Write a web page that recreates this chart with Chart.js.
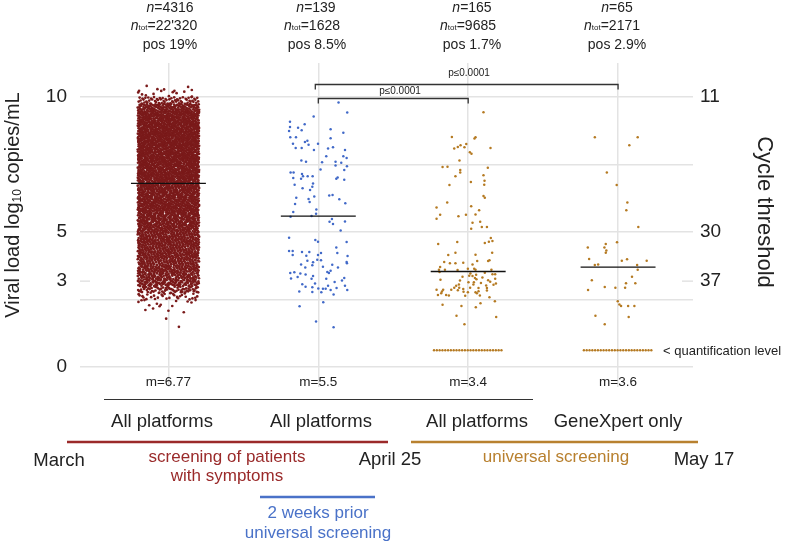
<!DOCTYPE html>
<html>
<head>
<meta charset="utf-8">
<script src="https://cdn.jsdelivr.net/npm/chart.js@4/dist/chart.umd.min.js"></script>
<style>
html,body{margin:0;padding:0;background:#fff;}
canvas{display:block;}
</style>
</head>
<body>
<canvas id="c" width="787" height="544"></canvas>
<script>
// ---------------- DATA ----------------
const groupPositions = [1, 2, 3, 4];
const groupLabels = ['All platforms', 'All platforms', 'All platforms', 'GeneXpert only'];
const nLabels = ['4316', '139', '165', '65'];
const nTotLabels = ["22'320", '1628', '9685', '2171'];
const posLabels = ['pos 19%', 'pos 8.5%', 'pos 1.7%', 'pos 2.9%'];
const medianTexts = ['m=6.77', 'm=5.5', 'm=3.4', 'm=3.6'];
const medianLevels = [6.80, 5.59, 3.54, 3.70];

// Left axis (viral load) and right axis (cycle threshold) labels
const vlTickValues = [0, 3.18, 5, 10];
const vlTickLabels = ['0', '3', '5', '10'];
const vlGridValues = [0, 2.5, 5, 7.5, 10];
const ctTickValues = [3.18, 5, 10];
const ctTickLabels = ['37', '30', '11'];

// Group 1 (n=4316): dense strip, counts per 0.25 log bin starting at 2.0
const g1BinStart = 2.0;
const g1BinWidth = 0.25;
const g1BinCounts = [4, 8, 30, 70, 105, 115, 122, 120, 125, 130, 132, 135, 138, 140, 143, 145, 148,
  152, 158, 162, 164, 166, 168, 170, 172, 175, 175, 175, 172, 160, 120, 60, 10, 2];
const g1OutlierValues = [10.23, 10.41, 10.28, 10.23, 10.26, 2.41, 2.48, 2.25, 1.79, 1.49, 2.48];
const g1OutlierJitter = [-0.196, -0.145, -0.029, 0.040, 0.156, -0.2, -0.16, -0.059, -0.015, 0.07, 0.181];

// Group 2 (2 weeks prior universal screening)
const g2Values = [9.80,9.43,9.28,9.08,8.99,8.89,8.86,8.74,8.77,8.81,8.68,8.51,8.51,8.47,8.38,8.33,8.27,8.27,8.23,8.11,
8.11,8.09,8.14,8.04,8.04,7.81,7.81,7.74,7.65,7.60,7.58,7.60,7.57,7.46,7.44,7.32,7.30,7.20,7.20,7.15,
7.07,7.07,7.07,7.00,6.97,6.97,7.02,6.94,6.80,6.75,6.68,6.62,6.56,6.35,6.37,6.32,6.27,6.22,6.21,6.11,
6.07,6.04,5.83,5.74,5.68,5.57,5.59,5.48,5.38,5.39,5.30,5.06,4.79,4.70,4.64,4.63,4.43,4.30,4.30,4.26,
4.26,4.22,4.22,4.15,4.12,4.15,4.11,3.94,3.97,3.95,3.88,3.89,3.84,3.80,3.77,3.71,3.79,3.69,3.69,3.57,
3.52,3.48,3.48,3.51,3.46,3.43,3.37,3.33,3.28,3.27,3.27,3.30,3.20,3.15,3.09,3.07,3.01,3.01,2.97,2.95,
2.91,2.90,2.90,2.85,2.93,2.85,2.80,2.78,2.77,2.69,2.40,2.25,1.69,1.47];
const g2Jitter = [0.135,0.193,-0.031,-0.189,-0.091,-0.189,-0.135,-0.195,-0.111,0.082,0.167,-0.187,-0.149,0.082,-0.073,-0.089,-0.002,-0.169,-0.065,-0.151,
-0.111,0.065,0.098,-0.029,0.178,0.167,0.053,0.189,-0.113,-0.082,0.025,0.115,0.153,0.115,0.191,0.015,0.173,-0.185,-0.165,-0.109,
-0.102,-0.071,-0.038,-0.167,-0.115,0.12,0.129,0.173,-0.035,-0.158,-0.04,-0.105,-0.055,0.073,0.095,-0.027,-0.147,-0.065,0.14,-0.058,
0.18,-0.155,-0.013,-0.167,-0.015,-0.185,-0.045,0.091,0.075,0.178,0.098,0.149,-0.195,-0.02,-0.002,0.189,0.12,-0.195,-0.171,-0.109,
-0.06,0.018,0.127,-0.171,-0.08,-0.002,0.195,-0.073,-0.007,0.018,-0.035,0.189,0.191,-0.115,-0.04,0.031,0.093,-0.087,0.131,0.082,
0.06,0.071,-0.187,-0.16,-0.12,-0.085,-0.035,-0.138,-0.182,-0.045,0.053,0.173,0.158,0.109,-0.022,-0.107,0.065,0.178,-0.085,-0.04,
0,0.031,0.049,0.082,0.122,0.193,-0.127,-0.04,0.02,0.102,0.033,-0.125,-0.015,0.102];

// Group 3 (universal screening, all platforms)
const g3Values = [9.44,8.52,8.51,8.46,8.26,8.21,8.15,8.09,8.14,8.11,7.95,7.90,7.65,7.41,7.42,7.38,7.30,7.20,7.07,7.10,
6.85,6.90,6.75,6.74,6.33,6.27,6.09,5.95,5.91,5.81,5.64,5.64,5.65,5.58,5.49,5.38,5.34,5.12,5.19,5.19,
4.56,4.63,4.59,4.64,4.67,4.78,4.15,4.23,4.16,4.23,3.89,3.84,3.84,3.86,3.93,3.93,3.95,3.70,3.80,3.60,
3.60,3.59,3.64,3.64,3.60,3.60,3.52,3.46,3.42,3.49,3.44,3.44,3.38,3.37,3.34,3.32,3.30,3.25,3.23,3.20,
3.27,3.21,3.16,3.14,3.14,3.11,3.06,3.06,3.01,3.02,3.05,3.09,2.94,2.94,2.94,2.93,2.93,2.86,2.86,2.86,
2.89,2.80,2.84,2.79,2.77,2.77,2.81,2.83,2.73,2.67,2.67,2.65,2.64,2.73,2.65,2.58,2.44,2.31,2.26,2.36,
2.21,1.90,1.85,1.58];
const g3Jitter = [0.102,-0.109,0.049,0.042,-0.013,-0.051,-0.069,-0.093,-0.025,0.149,0.011,0.022,-0.058,-0.171,-0.138,0.131,-0.053,-0.053,-0.085,0.102,
0.018,0.109,0.107,-0.125,0.102,0.111,-0.14,0.02,-0.211,0.073,-0.187,-0.015,0.049,-0.065,-0.211,0.08,0.029,0.02,0.091,0.125,
-0.2,-0.073,0.111,0.138,0.162,0.151,-0.133,-0.085,0.049,0.16,-0.16,-0.122,-0.085,-0.033,0.06,0.133,0.142,-0.187,0.029,-0.195,
-0.155,-0.071,-0.002,0.04,0.049,0.155,-0.191,0.015,0.053,0.111,0.162,0.18,0.007,0.029,-0.038,0.095,0.045,0.055,-0.185,-0.055,
0.18,0.133,0.147,0.002,0.038,0.085,0.035,-0.062,-0.08,0.12,0.169,0.185,-0.06,-0.093,0.013,0.069,0.125,-0.211,-0.167,-0.113,
-0.033,-0.175,-0.069,-0.031,-0.002,0.049,0.069,0.125,-0.18,-0.202,-0.147,-0.129,-0.02,0.058,0.078,0.142,0.178,-0.171,-0.045,0.082,
0.051,-0.078,0.187,-0.025];

// Group 4 (universal screening, GeneXpert only)
const g4Values = [8.51,8.51,8.21,7.20,6.74,6.09,5.81,5.19,4.62,4.43,4.56,4.43,4.32,4.23,4.00,3.94,3.99,3.94,3.78,3.80,
3.78,3.60,3.34,3.21,3.10,3.10,2.96,2.94,2.94,2.85,2.44,2.32,2.26,2.26,2.26,1.90,1.85,1.58];
const g4Jitter = [-0.155,0.131,0.075,-0.075,-0.009,0.062,0.055,0.135,-0.007,-0.202,-0.082,-0.091,-0.078,-0.082,-0.193,0.025,0.06,0.191,-0.155,-0.133,
0.127,0.131,0.093,-0.175,0.053,0.115,-0.089,-0.018,0.047,-0.2,-0.002,0.009,0.02,0.067,0.109,-0.151,0.071,-0.089];

// Results below quantification level, per group
const belowQuantLevel = 0.62;
const belowQuantCounts = [0, 0, 25, 25];

// Significance brackets
const bracketFrom = [2, 2];
const bracketTo = [4, 3];
const bracketLevels = [10.5, 9.96];
const bracketTexts = ['p≤0.0001', 'p≤0.0001'];

// ---------------- STYLE ----------------
const FONT = "'Liberation Sans', Arial, Helvetica, sans-serif";
const RED = '#7a1a1a';
const RED_TXT = '#9a2a2a';
const BLUE = '#4169c8';
const BLUE_TXT = '#4a72c8';
const ORANGE = '#b57a22';
const ORANGE_TXT = '#b8802f';
const GRID = '#e3e3e3';
const TXT = '#222222';
const JIT = 0.205;

// ---------------- BUILD POINTS ----------------
// Spread of each bin's points inside the strip (Halton low-discrepancy layout)
function halton(i, base) {
  let f = 1, r = 0;
  while (i > 0) { f /= base; r += f * (i % base); i = Math.floor(i / base); }
  return r;
}
const g1Points = [];
let k = 0;
g1BinCounts.forEach((n, b) => {
  for (let i = 0; i < n; i++) {
    k++;
    const u = halton(k, 2);
    const w = halton(k, 3);
    g1Points.push({ x: groupPositions[0] + (u * 2 - 1) * JIT, y: g1BinStart + (b + w) * g1BinWidth });
  }
});
g1OutlierValues.forEach((v, i) => g1Points.push({ x: groupPositions[0] + g1OutlierJitter[i], y: v }));

const mk = (vals, jit, g) => vals.map((v, i) => ({ x: groupPositions[g] + jit[i], y: v }));
const g2Points = mk(g2Values, g2Jitter, 1);
const g3Points = mk(g3Values, g3Jitter, 2);
const g4Points = mk(g4Values, g4Jitter, 3);

function quantRow(g) {
  const n = belowQuantCounts[g];
  const arr = [];
  for (let i = 0; i < n; i++) {
    arr.push({ x: groupPositions[g] - 0.228 + (0.45 * i) / (n - 1), y: belowQuantLevel });
  }
  return arr;
}

const ptDS = (data, color, r) => ({
  type: 'scatter', data, backgroundColor: color, borderColor: color, order: 5,
  pointRadius: r, pointBorderWidth: 0, pointHoverRadius: r, clip: false
});

const datasets = [
  ptDS(g1Points, RED, 1.35),
  ptDS(g2Points, BLUE, 1.25),
  ptDS(g3Points, ORANGE, 1.25),
  ptDS(quantRow(2), ORANGE, 1.2),
  ptDS(g4Points, ORANGE, 1.25),
  ptDS(quantRow(3), ORANGE, 1.2)
];
medianLevels.forEach((m, i) => {
  datasets.push({
    type: 'line', order: 0,
    data: [{ x: groupPositions[i] - 0.25, y: m }, { x: groupPositions[i] + 0.25, y: m }],
    borderColor: '#111', borderWidth: 1.4, pointRadius: 0, fill: false
  });
});

// ---------------- DRAW HELPERS ----------------
function drawRich(ctx, parts, cx, cy) {
  let total = 0;
  parts.forEach(p => { ctx.font = p.font; total += ctx.measureText(p.t).width; });
  let x = cx - total / 2;
  ctx.textAlign = 'left';
  ctx.textBaseline = 'middle';
  parts.forEach(p => {
    ctx.font = p.font;
    ctx.fillStyle = p.color || TXT;
    ctx.fillText(p.t, x, cy + (p.dy || 0));
    x += ctx.measureText(p.t).width;
  });
}
function text(ctx, t, x, y, size, color, align) {
  ctx.font = size + 'px ' + FONT;
  ctx.fillStyle = color || TXT;
  ctx.textAlign = align || 'center';
  ctx.textBaseline = 'middle';
  ctx.fillText(t, x, y);
}
function hline(ctx, x1, x2, y, color, w) {
  ctx.beginPath();
  ctx.strokeStyle = color; ctx.lineWidth = w;
  ctx.moveTo(x1, y); ctx.lineTo(x2, y); ctx.stroke();
}

const decor = {
  id: 'decor',
  beforeDatasetsDraw(chart) {
    const ctx = chart.ctx, y = chart.scales.y, a = chart.chartArea;
    ctx.save();
    const py = y.getPixelForValue(vlTickValues[1]);
    hline(ctx, a.left, a.left + 10, py, GRID, 1.5);
    hline(ctx, a.right - 11, a.right, py, GRID, 1.5);
    ctx.restore();
  },
  afterDraw(chart) {
    const ctx = chart.ctx, xs = chart.scales.x, ys = chart.scales.y;
    ctx.save();
    // brackets
    bracketLevels.forEach((lv, i) => {
      const x1 = xs.getPixelForValue(bracketFrom[i]) - (i === 0 ? 3 : 0);
      const x2 = xs.getPixelForValue(bracketTo[i]);
      const py = Math.round(ys.getPixelForValue(lv)) + 0.5;
      ctx.beginPath();
      ctx.strokeStyle = '#333'; ctx.lineWidth = 1.3;
      ctx.moveTo(x1, py + 5); ctx.lineTo(x1, py); ctx.lineTo(x2, py); ctx.lineTo(x2, py + 5);
      ctx.stroke();
    });
    text(ctx, bracketTexts[0], 469, 73, 10, TXT);
    text(ctx, bracketTexts[1], 400, 91, 10, TXT);

    // header annotations
    const nX = [170, 316, 472, 617];
    const totX = [164, 312, 468, 612];
    const posX = [170, 317, 472, 617];
    groupPositions.forEach((g, i) => {
      drawRich(ctx, [
        { t: 'n', font: 'italic 14px ' + FONT },
        { t: '=' + nLabels[i], font: '14px ' + FONT }
      ], nX[i], 8);
      drawRich(ctx, [
        { t: 'n', font: 'italic 14px ' + FONT },
        { t: 'tot', font: '8px ' + FONT, dy: 2 },
        { t: '=' + nTotLabels[i], font: '14px ' + FONT }
      ], totX[i], 26);
      text(ctx, posLabels[i], posX[i], 45, 14, TXT);
      text(ctx, medianTexts[i], xs.getPixelForValue(g), 382, 13.5, TXT);
    });

    text(ctx, '< quantification level', 663, 351, 13, TXT, 'left');

    // bottom structure
    hline(ctx, 104, 533, 399.5, '#333', 1.2);
    const glX = [162, 321, 477, 618];
    groupLabels.forEach((l, i) => text(ctx, l, glX[i], 422, 18.5, TXT));
    hline(ctx, 67, 388, 442, '#9b2a2a', 2.4);
    hline(ctx, 411, 698, 442, '#b8812f', 2.4);
    hline(ctx, 260, 375, 497, '#4a72c8', 2.4);
    text(ctx, 'March', 59, 461, 18.5, TXT);
    text(ctx, 'April 25', 390, 460, 18.5, TXT);
    text(ctx, 'May 17', 704, 460, 18.5, TXT);
    text(ctx, 'screening of patients', 227, 457, 17, RED_TXT);
    text(ctx, 'with symptoms', 227, 476, 17, RED_TXT);
    text(ctx, 'universal screening', 556, 457, 17, ORANGE_TXT);
    text(ctx, '2 weeks prior', 318, 513, 17, BLUE_TXT);
    text(ctx, 'universal screening', 318, 533, 17, BLUE_TXT);

    // axis titles
    ctx.save();
    ctx.translate(13, 205);
    ctx.rotate(-Math.PI / 2);
    drawRich(ctx, [
      { t: 'Viral load log', font: '20px ' + FONT },
      { t: '10', font: '12px ' + FONT, dy: 5 },
      { t: ' copies/mL', font: '20px ' + FONT }
    ], 0, 0);
    ctx.restore();
    ctx.save();
    ctx.translate(764, 212);
    ctx.rotate(Math.PI / 2);
    drawRich(ctx, [{ t: 'Cycle threshold', font: '22px ' + FONT }], 0, 0);
    ctx.restore();

    ctx.restore();
  }
};

const lookup = (vals, labels) => (v) => {
  const i = vals.findIndex(t => Math.abs(t - v) < 1e-6);
  return i >= 0 ? labels[i] : '';
};

new Chart(document.getElementById('c'), {
  type: 'scatter',
  data: { datasets },
  options: {
    responsive: false,
    animation: false,
    events: [],
    layout: { padding: { left: 0, right: 0, top: 63, bottom: 157 } },
    plugins: { legend: { display: false }, tooltip: { enabled: false } },
    scales: {
      x: {
        type: 'linear', min: 0.41, max: 4.5,
        afterBuildTicks: s => { s.ticks = groupPositions.map(v => ({ value: v })); },
        ticks: { display: false },
        grid: { color: GRID, lineWidth: 1.5, drawTicks: false },
        border: { display: false },
        afterFit: s => { s.height = 0; }
      },
      y: {
        type: 'linear', position: 'left', min: -0.74, max: 11.26,
        afterBuildTicks: s => {
          s.ticks = [...new Set([...vlGridValues, ...vlTickValues])].sort((a, b) => a - b).map(v => ({ value: v }));
        },
        ticks: {
          autoSkip: false, padding: 13, color: TXT,
          font: { size: 19, family: FONT },
          callback: lookup(vlTickValues, vlTickLabels)
        },
        grid: {
          color: c => (c.tick && vlGridValues.includes(c.tick.value)) ? GRID : 'rgba(0,0,0,0)',
          lineWidth: 1.5, drawTicks: false
        },
        border: { display: false },
        afterFit: s => { s.width = 80; }
      },
      y2: {
        type: 'linear', position: 'right', min: -0.74, max: 11.26,
        afterBuildTicks: s => { s.ticks = ctTickValues.map(v => ({ value: v })); },
        ticks: {
          autoSkip: false, padding: 7, color: TXT,
          font: { size: 19, family: FONT },
          callback: lookup(ctTickValues, ctTickLabels)
        },
        grid: { display: false, drawTicks: false },
        border: { display: false },
        afterFit: s => { s.width = 94; }
      }
    }
  },
  plugins: [decor]
});
</script>
</body>
</html>
